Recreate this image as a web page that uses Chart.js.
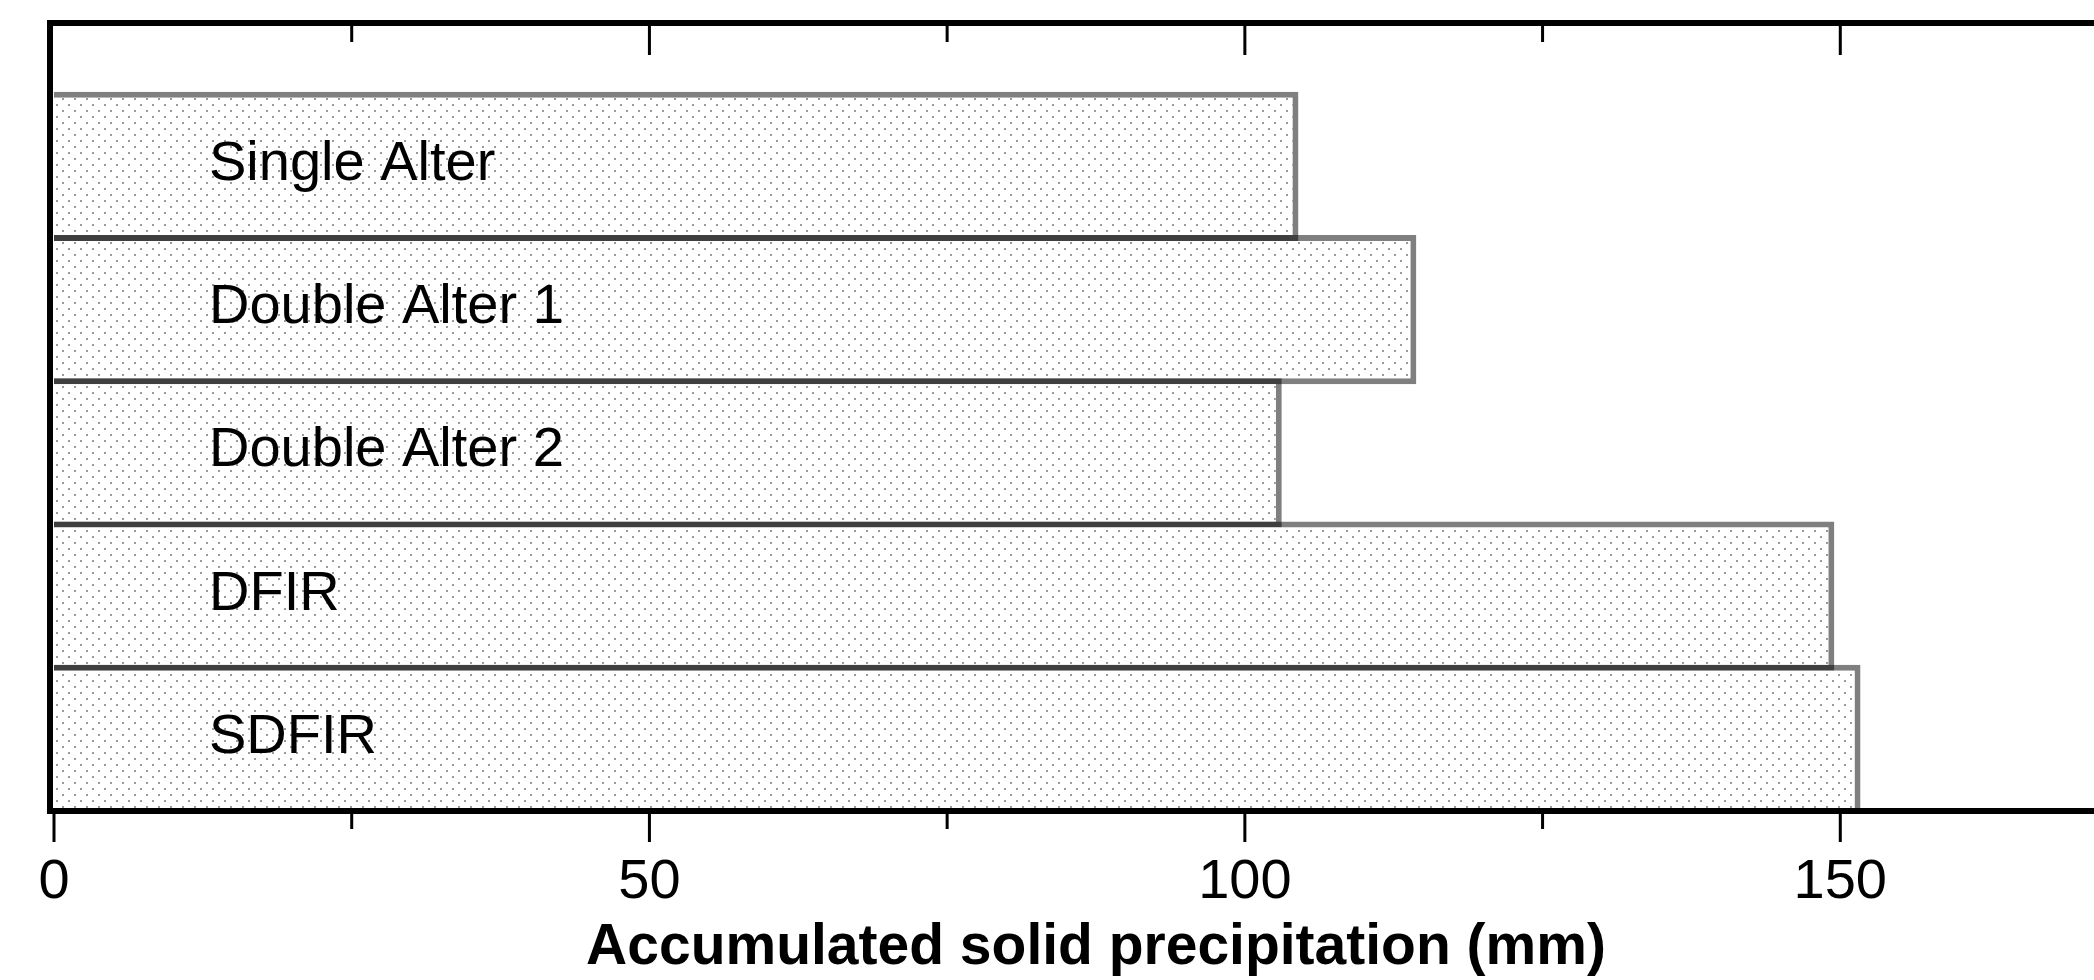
<!DOCTYPE html>
<html>
<head>
<meta charset="utf-8">
<script src="https://cdn.jsdelivr.net/npm/chart.js@4/dist/chart.umd.min.js"></script>
<style>
  body { margin: 0; background: #fff; overflow: hidden; }
</style>
</head>
<body>
<canvas id="mychart" width="2160" height="980"></canvas>
<script>
// data
const categories = ['Single Alter', 'Double Alter 1', 'Double Alter 2', 'DFIR', 'SDFIR'];
const precip = [104.5, 114.4, 103.1, 149.5, 151.7];
const xTicks = [0, 50, 100, 150];

// dotted fill
const tile = document.createElement('canvas');
tile.width = 12;
tile.height = 12;
const tctx = tile.getContext('2d');
tctx.fillStyle = '#fff';
tctx.fillRect(0, 0, 12, 12);
tctx.fillStyle = '#9a9a9a';
tctx.fillRect(2, 2, 2, 2);
tctx.fillRect(8, 8, 2, 2);
const dots = tctx.createPattern(tile, 'repeat');

// frame + tick marks
const framePlugin = {
    id: 'frame',
    afterDraw(chart) {
        const ctx = chart.ctx;
        const a = chart.chartArea;
        const xs = chart.scales.x;
        ctx.save();
        ctx.strokeStyle = '#000';
        ctx.lineWidth = 3;
        xs.ticks.forEach(t => {
            const px = xs.getPixelForValue(t.value);
            const len = t.value % 50 === 0 ? 29 : 16;
            ctx.beginPath();
            ctx.moveTo(px, a.bottom);
            ctx.lineTo(px, a.bottom + len + 2);
            if (t.value > 0) {
                ctx.moveTo(px, a.top);
                ctx.lineTo(px, a.top + len + 3);
            }
            ctx.stroke();
        });
        ctx.lineWidth = 6;
        ctx.beginPath();
        ctx.moveTo(a.right + 10, a.top);
        ctx.lineTo(a.left - 4, a.top);
        ctx.lineTo(a.left - 4, a.bottom);
        ctx.lineTo(a.right + 10, a.bottom);
        ctx.stroke();
        ctx.restore();
    }
};

const ctx = document.getElementById('mychart');

const barChart = new Chart(ctx, {
    type: 'bar',
    data: {
        datasets: [{
            data: precip.map((v, i) => ({ x: v, y: i })),
            backgroundColor: dots,
            borderColor: 'rgba(0,0,0,0.5)',
            borderWidth: 6,
            categoryPercentage: 1,
            barPercentage: 1.042
        }]
    },
    options: {
        indexAxis: 'y',
        responsive: false,
        animation: false,
        layout: {
            padding: { left: 54, right: 22, top: 23, bottom: 0 }
        },
        plugins: {
            legend: { display: false },
            tooltip: { enabled: false }
        },
        scales: {
            x: {
                type: 'linear',
                min: 0,
                max: 175,
                grid: { display: false },
                border: { display: false },
                afterFit: scale => {
                    scale.height = 169;
                    scale.paddingLeft = 0;
                    scale.paddingRight = 0;
                },
                ticks: {
                    stepSize: 25,
                    padding: 36,
                    color: '#000',
                    font: { family: '"Liberation Sans", Arial, sans-serif', size: 56, lineHeight: 1 },
                    callback: v => xTicks.includes(v) ? v : ''
                },
                title: {
                    display: true,
                    text: 'Accumulated solid precipitation (mm)',
                    color: '#000',
                    padding: { top: 7, bottom: 3 },
                    font: { family: '"Liberation Sans", Arial, sans-serif', size: 57, weight: 'bold', lineHeight: 1 }
                }
            },
            y: {
                type: 'linear',
                reverse: true,
                offset: false,
                min: -1,
                max: 4.5,
                grid: { display: false, offset: false },
                border: { display: false },
                afterBuildTicks: scale => {
                    scale.ticks = categories.map((c, i) => ({ value: i }));
                },
                afterFit: scale => {
                    scale.width = 0;
                    scale.paddingTop = 0;
                    scale.paddingBottom = 0;
                },
                ticks: {
                    z: 1,
                    mirror: true,
                    padding: 155,
                    labelOffset: -2,
                    color: '#000',
                    font: { family: '"Liberation Sans", Arial, sans-serif', size: 56 },
                    callback: v => categories[v]
                }
            }
        }
    },
    plugins: [framePlugin]
});
</script>
</body>
</html>
